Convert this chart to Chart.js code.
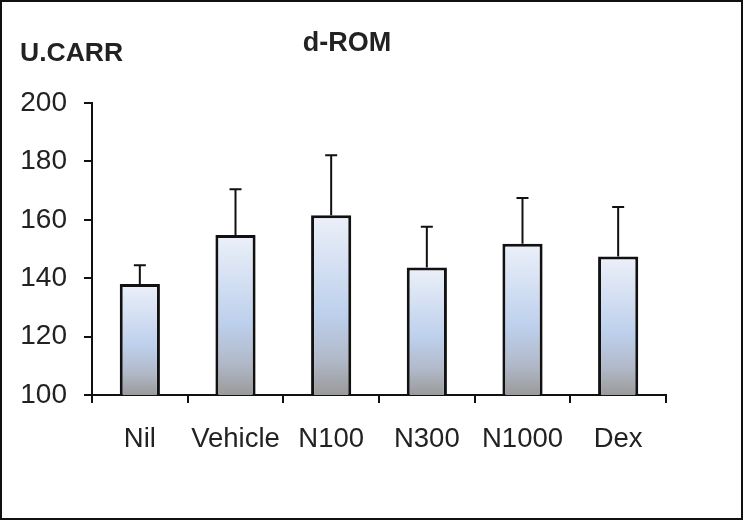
<!DOCTYPE html>
<html>
<head>
<meta charset="utf-8">
<script src="https://cdn.jsdelivr.net/npm/chart.js@4/dist/chart.umd.min.js"></script>
<style>
  html, body { margin: 0; padding: 0; background: #fff; }
  canvas { display: block; }
</style>
</head>
<body>
<canvas id="chart" width="743" height="520"></canvas>
<script>
// groups and values
var groups = ['Nil', 'Vehicle', 'N100', 'N300', 'N1000', 'Dex'];
var means = [138.0, 154.8, 161.6, 143.7, 151.8, 147.4];
var errors = [6.4, 15.7, 20.5, 13.9, 15.7, 17.0];
var yTicks = [100, 120, 140, 160, 180, 200];

var FONT = '"Liberation Sans", Arial, sans-serif';

function barFill(ctx) {
    var chart = ctx.chart;
    var y = chart.scales.y;
    if (!y || ctx.type !== 'data') return '#c8d6ee';
    var top = y.getPixelForValue(ctx.raw);
    var bot = y.getPixelForValue(yTicks[0]);
    if (!isFinite(top) || !isFinite(bot) || top === bot) return '#c8d6ee';
    var g = chart.ctx.createLinearGradient(0, top, 0, bot);
    g.addColorStop(0, '#ecf0f9');
    g.addColorStop(0.55, '#bdd0ec');
    g.addColorStop(0.8, '#b1b9c9');
    g.addColorStop(1, '#9a9a9a');
    return g;
}

var errorBars = {
    id: 'errorBars',
    afterDatasetsDraw: function (chart) {
        var c = chart.ctx;
        var y = chart.scales.y;
        var meta = chart.getDatasetMeta(0);
        c.save();
        c.strokeStyle = '#111';
        c.lineWidth = 2;
        meta.data.forEach(function (bar, i) {
            var yTop = y.getPixelForValue(means[i] + errors[i]);
            c.beginPath();
            c.moveTo(bar.x, bar.y);
            c.lineTo(bar.x, yTop);
            c.moveTo(bar.x - 6, yTop);
            c.lineTo(bar.x + 6, yTop);
            c.stroke();
        });
        c.restore();
    }
};

var labels = {
    id: 'labels',
    afterDraw: function (chart) {
        var c = chart.ctx;
        c.save();
        c.fillStyle = '#222';
        c.font = 'bold 26.5px ' + FONT;
        c.textBaseline = 'alphabetic';
        c.textAlign = 'left';
        c.fillText('U.CARR', 20, 61);
        c.font = 'bold 27px ' + FONT;
        c.textAlign = 'center';
        c.fillText('d-ROM', 347, 51);
        // frame round the figure
        c.strokeStyle = '#111';
        c.lineWidth = 2;
        c.strokeRect(1, 1, chart.width - 2, chart.height - 2);
        c.restore();
    }
};

new Chart(document.getElementById('chart'), {
    type: 'bar',
    data: {
        labels: groups,
        datasets: [{
            data: means,
            backgroundColor: barFill,
            borderColor: '#111',
            borderWidth: 3,
            borderSkipped: false,
            barPercentage: 0.42,
            categoryPercentage: 1
        }]
    },
    options: {
        responsive: false,
        animation: false,
        layout: { padding: { left: 0, top: 103, right: 77, bottom: 0 } },
        plugins: {
            legend: { display: false },
            tooltip: { enabled: false }
        },
        scales: {
            x: {
                afterFit: function (s) { s.height = 125; },
                border: { display: true, color: '#111', width: 2 },
                grid: { display: true, drawOnChartArea: false, drawTicks: true, tickLength: 8, color: '#111', lineWidth: 2, offset: true },
                ticks: { color: '#222', padding: 20, font: { family: FONT, size: 27.5 } }
            },
            y: {
                min: yTicks[0],
                max: yTicks[yTicks.length - 1],
                afterFit: function (s) { s.width = 92; },
                afterBuildTicks: function (s) { s.ticks = yTicks.map(function (v) { return { value: v }; }); },
                border: { display: true, color: '#111', width: 2 },
                grid: { display: true, drawOnChartArea: false, drawTicks: true, tickLength: 8, color: '#111', lineWidth: 2 },
                ticks: { color: '#222', padding: 17, font: { family: FONT, size: 28 } }
            }
        }
    },
    plugins: [errorBars, labels]
});
</script>
</body>
</html>
